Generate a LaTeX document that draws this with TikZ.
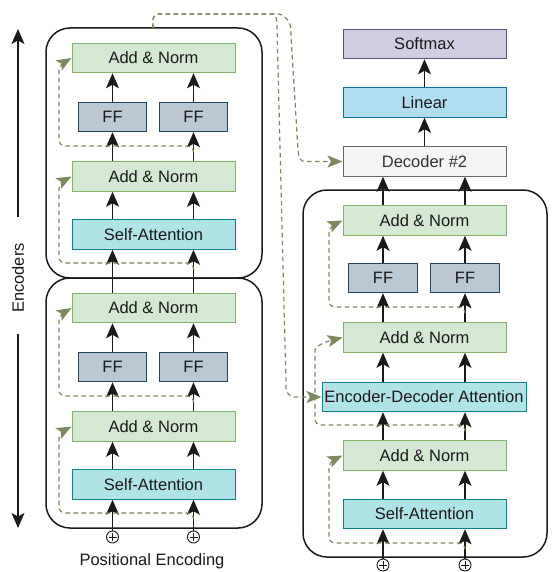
\documentclass[tikz,border=0pt]{standalone}
\usepackage{fontspec}
\setmainfont{Liberation Sans}
\usetikzlibrary{arrows.meta,calc}
\definecolor{anfill}{HTML}{D5E8D4}
\definecolor{anline}{HTML}{82B366}
\definecolor{fffill}{HTML}{BAC8D3}
\definecolor{ffline}{HTML}{23445D}
\definecolor{safill}{HTML}{B0E3E6}
\definecolor{saline}{HTML}{0E8088}
\definecolor{smfill}{HTML}{D0CEE2}
\definecolor{smline}{HTML}{56517E}
\definecolor{lnfill}{HTML}{B1DDF0}
\definecolor{lnline}{HTML}{10739E}
\definecolor{dcfill}{HTML}{F5F5F5}
\definecolor{dcline}{HTML}{666666}
\definecolor{dctext}{HTML}{333333}
\definecolor{resc}{HTML}{7A8960}
\definecolor{txt}{HTML}{1A1A1A}
\newcommand{\fsx}{\fontsize{16.5}{19}\selectfont}
\tikzset{
  box/.style={draw, line width=1pt, inner sep=0pt, minimum height=29.5pt, font=\fsx, text=txt},
  addnorm/.style={box, fill=anfill, draw=anline, minimum width=163pt},
  ffbox/.style={box, fill=fffill, draw=ffline, minimum width=68.5pt},
  attn/.style={box, fill=safill, draw=saline, minimum width=163pt},
  cont/.style={draw=txt, line width=1.5pt, rounded corners=24pt},
  arr/.style={-{Stealth[length=15pt,width=13pt,inset=3.5pt]}, line width=1.2pt, draw=txt},
  res/.style={draw=resc, dash pattern=on 4.5pt off 3.5pt, line width=1.2pt, rounded corners=6pt,
     -{Stealth[length=15pt,width=12pt,inset=3.5pt,fill=resc]}},
  pe/.style={circle, draw=txt, line width=0.9pt, minimum size=12pt, inner sep=0pt, fill=white,
     path picture={\draw[line width=0.8pt] ([yshift=4pt]path picture bounding box.center) -- ([yshift=-4pt]path picture bounding box.center)
       ([xshift=-4pt]path picture bounding box.center) -- ([xshift=4pt]path picture bounding box.center);}},
  lbl/.style={font=\fsx, text=txt, inner sep=0pt}
}
\begin{document}
\begin{tikzpicture}[x=1pt,y=-1pt]
\useasboundingbox (0,0) rectangle (554,572);

% containers
\draw[cont] (46,28) rectangle (262,278);
\draw[cont] (46,278) rectangle (262,528);
\draw[cont] (303,190) rectangle (547,557);

% encoder 2 (top)
\node[addnorm] (tAN2) at (153.5,58) {Add \& Norm};
\node[ffbox] (tFFl) at (112.5,117) {FF};
\node[ffbox] (tFFr) at (193.5,117) {FF};
\node[addnorm] (tAN1) at (153.5,176.5) {Add \& Norm};
\node[attn] (tSA) at (153.5,234.5) {Self-Attention};
% encoder 1 (bottom)
\node[addnorm] (bAN2) at (153.5,308) {Add \& Norm};
\node[ffbox] (bFFl) at (112.5,367) {FF};
\node[ffbox] (bFFr) at (193.5,367) {FF};
\node[addnorm] (bAN1) at (153.5,426.5) {Add \& Norm};
\node[attn] (bSA) at (153.5,484.5) {Self-Attention};
\node[pe] (pe1) at (112.5,537) {};
\node[pe] (pe2) at (193.5,537) {};
\node[lbl] (pelbl) at (152,561) {Positional Encoding};

% decoder
\node[box, fill=smfill, draw=smline, minimum width=163pt] (soft) at (424.5,44) {Softmax};
\node[box, fill=lnfill, draw=lnline, minimum width=163pt] (lin) at (424.5,102.5) {Linear};
\node[box, fill=dcfill, draw=dcline, minimum width=163pt, text=dctext] (dec2) at (424.5,161.5) {Decoder \#2};
\node[addnorm] (dAN3) at (424.5,220.5) {Add \& Norm};
\node[ffbox] (dFFl) at (383,278) {FF};
\node[ffbox] (dFFr) at (465,278) {FF};
\node[addnorm] (dAN2) at (424.5,337.5) {Add \& Norm};
\node[attn, minimum width=204pt] (dED) at (424,397) {Encoder-Decoder Attention};
\node[addnorm] (dAN1) at (424.5,455.5) {Add \& Norm};
\node[attn] (dSA) at (424.5,514) {Self-Attention};
\node[pe] (pd1) at (383,565) {};
\node[pe] (pd2) at (465,565) {};

% Encoders side arrow
\node[lbl, rotate=90] (enclbl) at (18,278) {Encoders};
\coordinate (eaT) at (18,217);
\coordinate (eaTtip) at (18,29);
\coordinate (eaB) at (18,334);
\coordinate (eaBtip) at (18,528);
\draw[arr] (eaT) -- (eaTtip);
\draw[arr] (eaB) -- (eaBtip);

% encoder solid arrows
\foreach \c in {tFFl,tFFr}{
  \draw[arr] (\c.north) -- (\c.north |- tAN2.south);
  \draw[arr] (\c.north |- tAN1.north) -- (\c.south);
  \draw[arr] (\c.north |- tSA.north) -- (\c.north |- tAN1.south);
  \draw[arr] (\c.north |- bAN2.north) -- (\c.north |- tSA.south);
}
\foreach \c in {bFFl,bFFr}{
  \draw[arr] (\c.north) -- (\c.north |- bAN2.south);
  \draw[arr] (\c.north |- bAN1.north) -- (\c.south);
  \draw[arr] (\c.north |- bSA.north) -- (\c.north |- bAN1.south);
}
\draw[arr] (pe1.north) -- (pe1.north |- bSA.south);
\draw[arr] (pe2.north) -- (pe2.north |- bSA.south);

% decoder solid arrows
\foreach \c in {dFFl,dFFr}{
  \draw[arr] (\c.north |- dAN3.north) -- (\c.north |- dec2.south);
  \draw[arr] (\c.north) -- (\c.north |- dAN3.south);
  \draw[arr] (\c.north |- dAN2.north) -- (\c.south);
  \draw[arr] (\c.north |- dED.north) -- (\c.north |- dAN2.south);
  \draw[arr] (\c.north |- dAN1.north) -- (\c.north |- dED.south);
  \draw[arr] (\c.north |- dSA.north) -- (\c.north |- dAN1.south);
}
\draw[arr] (pd1.north) -- (pd1.north |- dSA.south);
\draw[arr] (pd2.north) -- (pd2.north |- dSA.south);
\draw[arr] (dec2.north) -- (lin.south);
\draw[arr] (lin.north) -- (soft.south);

% residual dashed connectors: encoders
\coordinate (tr1) at (193.5,268);
\coordinate (tr2) at (193.5,151);
\coordinate (br1) at (193.5,518);
\coordinate (br2) at (193.5,401);
\draw[res] (tr1) -- (193.5,263) -- (59,263) -- (59,194) .. controls (59,186) and (63,181) .. (tAN1.west);
\draw[res] (tr2) -- (193.5,146) -- (59,146) -- (59,76) .. controls (59,68) and (63,63) .. (tAN2.west);
\draw[res] (br1) -- (193.5,513) -- (59,513) -- (59,444) .. controls (59,436) and (63,431) .. (bAN1.west);
\draw[res] (br2) -- (193.5,396) -- (59,396) -- (59,326) .. controls (59,318) and (63,313) .. (bAN2.west);

% residual dashed connectors: decoder
\coordinate (dr1) at (465,548);
\coordinate (dr2) at (465,430);
\coordinate (dr3) at (465,312);
\draw[res] (dr1) -- (465,543) -- (329,543) -- (329,473) .. controls (329,465) and (333,460) .. (dAN1.west);
\draw[res] (dr2) -- (465,425) -- (315,425) -- (315,356) .. controls (315,347) and (324,342) .. (dAN2.west);
\draw[res] (dr3) -- (465,307) -- (329,307) -- (329,238) .. controls (329,230) and (333,225) .. (dAN3.west);

% encoder output to decoder
\coordinate (encout) at (153,28);
\draw[res] (encout) -- (153,14) -- (268,14) .. controls (275,14) and (277,20) .. (277,28)
   -- (286,383) .. controls (286,392) and (290,397) .. (300,397) -- (dED.west);
\draw[res] (encout) -- (153,14) -- (272,14) .. controls (284,14) and (291,22) .. (291,36)
   -- (298,150) .. controls (299,158) and (302,161.5) .. (310,161.5) -- (dec2.west);
\end{tikzpicture}
\end{document}
